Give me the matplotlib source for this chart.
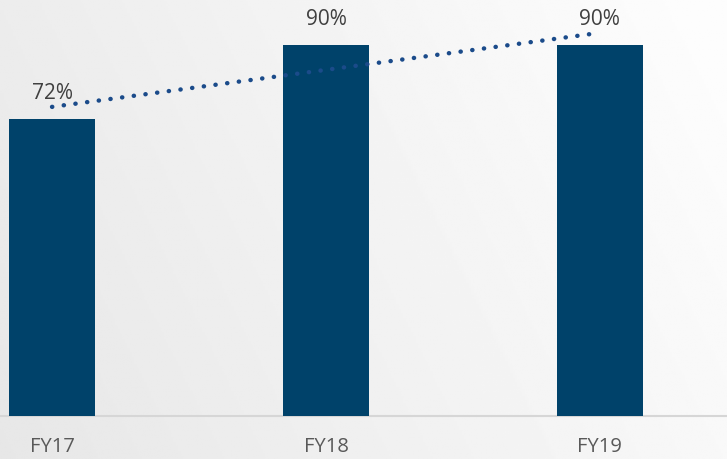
import numpy as np
import matplotlib
matplotlib.use("Agg")
import matplotlib.pyplot as plt

# chart data
categories = ["FY17", "FY18", "FY19"]
values = [72, 90, 90]
value_labels = ["72%", "90%", "90%"]

BAR_COLOR = "#00426A"
DOT_COLOR = "#1B4B8A"

fig = plt.figure(figsize=(7.27, 4.59), dpi=100)

# gradient background (light grey on the left to near white on the right)
bg = fig.add_axes([0, 0, 1, 1])
gx = np.linspace(0, 1, 300)
gy = np.linspace(0, 1, 200)
GX, GY = np.meshgrid(gx, gy)
shade = 0.905 + 0.085 * np.clip(0.8 * GX + 0.25 * (1 - GY), 0, 1)
bg.imshow(shade, cmap="gray", vmin=0, vmax=1, aspect="auto", extent=[0, 1, 0, 1])
bg.axis("off")

ax = fig.add_axes([0, 0, 1, 1])
ax.patch.set_alpha(0)
x = np.arange(len(categories))

ax.bar(x, values, width=0.315, color=BAR_COLOR, zorder=3)

# linear trend line through the bar values
slope, intercept = np.polyfit(x, values, 1)
tx = np.array([x[0], x[-1]])
ax.plot(tx, slope * tx + intercept, color=DOT_COLOR, linewidth=3.2,
        linestyle=(0, (0.05, 2.6)), dash_capstyle="round", zorder=4)

for xi, v, lab in zip(x, values, value_labels):
    ax.text(xi, v + 6.3, lab, ha="center", va="center", fontsize=15,
            color="#404040", family="Open Sans")

for xi, lab in zip(x, categories):
    ax.text(xi, -7.7, lab, ha="center", va="center", fontsize=14.5,
            color="#595959", family="Open Sans")

# baseline
ax.axhline(0, color="#D6D6D6", linewidth=1.5, zorder=2)

ax.set_xlim(-0.19, 2.464)
ax.set_ylim(-10.57, 100.97)
ax.axis("off")

plt.savefig("out.png", dpi=100)
